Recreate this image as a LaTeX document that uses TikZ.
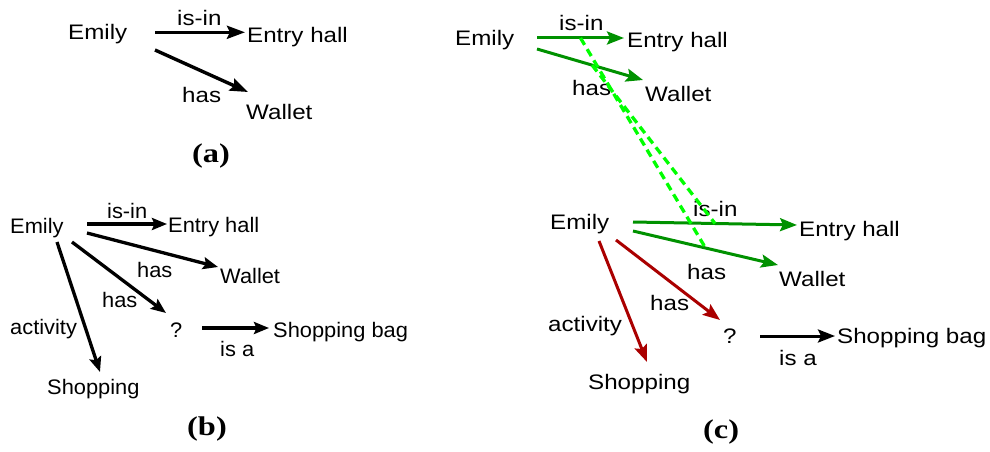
\documentclass[tikz,border=0pt]{standalone}
\usepackage{fontspec}
\setmainfont{Liberation Sans}
\newfontfamily\fontwide{Liberation Sans}[FakeStretch=1.15]
\newfontfamily\fontnarrow{Liberation Sans}[FakeStretch=1.04]
\newfontfamily\capfont{Liberation Serif}[FakeStretch=1.2]
\usetikzlibrary{arrows.meta}
\definecolor{edgegreen}{RGB}{0,145,0}
\definecolor{edgered}{RGB}{170,0,0}
\definecolor{linkgreen}{RGB}{0,255,0}
\begin{document}
\begin{tikzpicture}[x=1pt,y=-1pt,
  txt/.style={anchor=base west, inner sep=0pt},
  wide/.style={txt, font=\fontwide\fontsize{21}{25}\selectfont},
  narrow/.style={txt, font=\fontnarrow\fontsize{21}{25}\selectfont},
  caption/.style={txt, font=\capfont\bfseries\fontsize{27}{30}\selectfont},
  blackbig/.style={line width=3.4pt, -{Stealth[length=18pt,width=13pt,inset=3pt]}},
  blacksmall/.style={line width=3.3pt, -{Stealth[length=15pt,width=12pt,inset=2.5pt]}},
  greenedge/.style={edgegreen, line width=3pt, -{Stealth[length=17pt,width=13pt,inset=3pt]}},
  rededge/.style={edgered, line width=3pt, -{Stealth[length=17pt,width=13pt,inset=3pt]}},
  blackedge/.style={line width=3pt, -{Stealth[length=17pt,width=13pt,inset=3pt]}},
  link/.style={linkgreen, line width=3.3pt, dash pattern=on 8pt off 5pt}
]
\useasboundingbox (0,0) rectangle (990,452);

% ---------- (a) ----------
\node[wide] (emA) at (68,40) {Emily};
\node[wide] (isinlA) at (177,26) {is-in};
\node[wide] (entA) at (247,42.7) {Entry hall};
\node[wide] (haslA) at (182,102) {has};
\node[wide] (walA) at (246,119) {Wallet};
\node[caption] (capA) at (192,162) {(a)};
\coordinate (a1s) at (155,32.3); \coordinate (a1t) at (245,32.3);
\coordinate (a2s) at (155,50);   \coordinate (a2t) at (248,92);
\draw[blackbig] (a1s) -- (a1t);
\draw[blackbig] (a2s) -- (a2t);

% ---------- (b) ----------
\node[narrow] (emB) at (10,233) {Emily};
\node[narrow] (isinlB) at (107,218) {is-in};
\node[narrow] (entB) at (168,232) {Entry hall};
\node[narrow] (haslB1) at (137,277) {has};
\node[narrow] (walB) at (220,283) {Wallet};
\node[narrow] (haslB2) at (102,307) {has};
\node[narrow] (qB) at (170,337) {?};
\node[narrow] (bagB) at (273,337) {Shopping bag};
\node[narrow] (isalB) at (220,356) {is a};
\node[narrow] (actlB) at (10,334) {activity};
\node[narrow] (shopB) at (47,394) {Shopping};
\node[caption] (capB) at (187,435) {(b)};
\coordinate (b1s) at (87,224);  \coordinate (b1t) at (167,224);
\coordinate (b2s) at (87,233);  \coordinate (b2t) at (218,267);
\coordinate (b3s) at (72,242);  \coordinate (b3t) at (166,313);
\coordinate (b4s) at (202,328); \coordinate (b4t) at (269,328);
\coordinate (b5s) at (57,242);  \coordinate (b5t) at (100,372);
\draw[blacksmall] (b1s) -- (b1t);
\draw[blacksmall] (b2s) -- (b2t);
\draw[blacksmall] (b3s) -- (b3t);
\draw[blacksmall] (b4s) -- (b4t);
\draw[blacksmall] (b5s) -- (b5t);

% ---------- (c), earlier graph ----------
\node[wide] (emC) at (455,45.7) {Emily};
\node[wide] (isinlC) at (559,30.7) {is-in};
\node[wide] (entC) at (627,47.7) {Entry hall};
\node[wide] (walC) at (645,101.7) {Wallet};
\coordinate (c1s) at (537,38); \coordinate (c1t) at (624,38);
\coordinate (c2s) at (537,49); \coordinate (c2t) at (643,80);
\draw[greenedge] (c1s) -- coordinate[pos=0.5] (c1m) (c1t);
\draw[greenedge] (c2s) -- coordinate[pos=0.52] (c2m) (c2t);
\node[wide] (haslC) at (572,95.7) {has};

% ---------- (c), later graph ----------
\node[wide] (emD) at (550,229) {Emily};
\node[wide] (isinlD) at (693,216.7) {is-in};
\node[wide] (entD) at (799,236.7) {Entry hall};
\node[wide] (haslD1) at (687,279) {has};
\node[wide] (walD) at (779,286) {Wallet};
\node[wide] (haslD2) at (650,310) {has};
\node[wide] (qD) at (723,343) {?};
\node[wide] (bagD) at (837,343) {Shopping bag};
\node[wide] (isalD) at (779,365) {is a};
\node[wide] (actlD) at (548,331.7) {activity};
\node[wide] (shopD) at (588,389) {Shopping};
\node[caption] (capC) at (703,438) {(c)};
\coordinate (d1s) at (633,222); \coordinate (d1t) at (797,225);
\coordinate (d2s) at (633,231); \coordinate (d2t) at (778,265);
\coordinate (d3s) at (616,240); \coordinate (d3t) at (720,320);
\coordinate (d4s) at (760,336); \coordinate (d4t) at (835,336);
\coordinate (d5s) at (599,241); \coordinate (d5t) at (647,362);
\draw[greenedge] (d1s) -- coordinate[pos=0.5] (d1m) (d1t);
\draw[greenedge] (d2s) -- coordinate[pos=0.5] (d2m) (d2t);
\draw[rededge] (d3s) -- (d3t);
\draw[blackedge] (d4s) -- (d4t);
\draw[rededge] (d5s) -- (d5t);

% correspondences between the two graphs
\draw[link] (c1m) -- (d2m);
\draw[link] (c2m) -- (d1m);
\end{tikzpicture}
\end{document}
